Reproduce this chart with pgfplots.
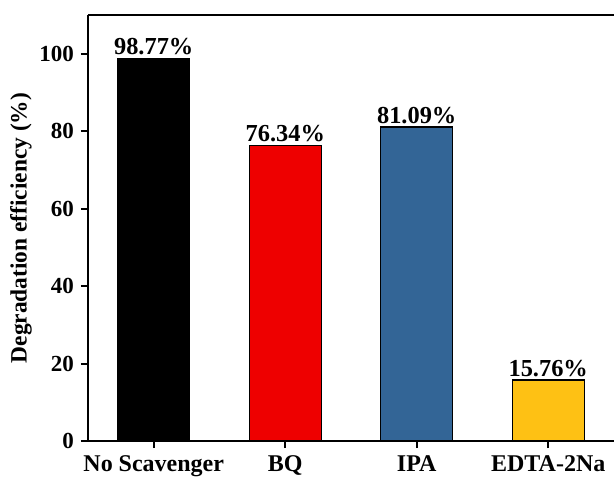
\documentclass[border=0pt]{standalone}
\usepackage{pgfplots}
\pgfplotsset{compat=1.18}
\usepackage{fontspec}
\setmainfont{Liberation Serif}
\definecolor{cred}{RGB}{238,0,0}
\definecolor{cblue}{RGB}{51,101,150}
\definecolor{cyel}{RGB}{254,193,20}
\begin{document}
\begin{tikzpicture}
\begin{axis}[
  width=263pt, height=213pt, scale only axis,
  xmin=-0.5, xmax=3.5, ymin=0, ymax=110,
  axis x line=box, axis y line*=left,
  xtick pos=lower, ytick pos=left,
  tick align=outside,
  major tick length=3.5pt,
  axis line style={line width=1pt},
  every tick/.style={line width=1pt, black},
  xtick={0,1,2,3},
  xticklabels={No Scavenger, BQ, IPA, EDTA-2Na},
  ytick={0,20,40,60,80,100},
  ylabel={Degradation efficiency (\%)},
  font=\fontsize{11.7}{13}\selectfont\bfseries,
  yticklabel style={font=\fontsize{11.5}{13}\selectfont\bfseries},
  xticklabel style={font=\fontsize{12}{13}\selectfont\bfseries, yshift=-0.5pt},
  /pgf/number format/assume math mode=true,
  ylabel style={yshift=-3pt},
  ybar, bar width=36pt, bar shift=0pt,
  point meta=explicit symbolic,
  nodes near coords,
  every node near coord/.append style={font=\fontsize{12.2}{13}\selectfont\bfseries, black, inner sep=1pt, yshift=0.5pt},
]
\addplot[draw=black, line width=0.6pt, fill=black] coordinates {(0,98.77) [98.77\%]};
\addplot[draw=black, line width=0.6pt, fill=cred] coordinates {(1,76.34) [76.34\%]};
\addplot[draw=black, line width=0.6pt, fill=cblue] coordinates {(2,81.09) [81.09\%]};
\addplot[draw=black, line width=0.6pt, fill=cyel] coordinates {(3,15.76) [15.76\%]};
\end{axis}
\pgfresetboundingbox
\path[use as bounding box] ([xshift=-44pt,yshift=-18.5pt]current axis.south west) rectangle ([yshift=7.5pt]current axis.north east);
\end{tikzpicture}
\end{document}
